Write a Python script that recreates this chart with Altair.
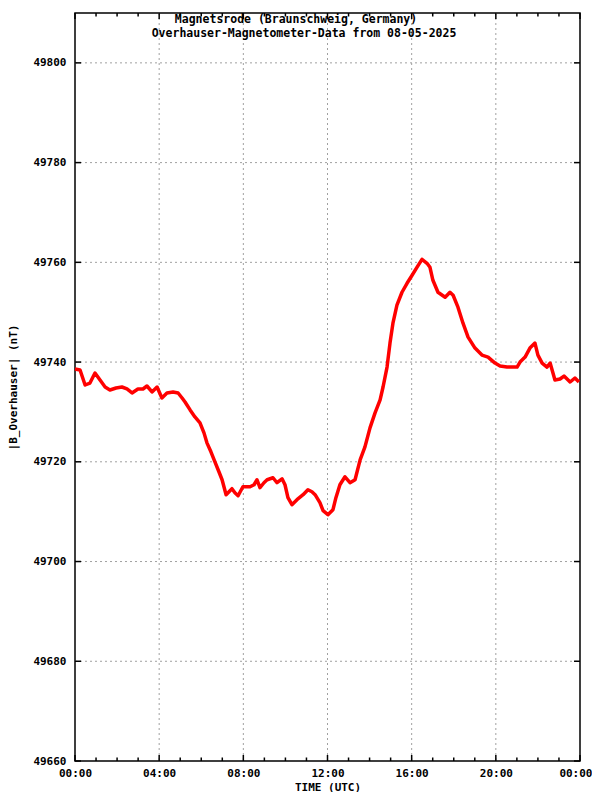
import altair as alt
import pandas as pd

# Time (hours UTC) and total field |B| (nT)
hours = [0.00, 0.24, 0.48, 0.71, 0.95, 1.19, 1.43, 1.66, 1.95, 2.23, 2.47, 2.71, 2.99, 3.23,
         3.42, 3.66, 3.90, 4.13, 4.37, 4.66, 4.90, 5.09, 5.23, 5.47, 5.70, 5.94, 6.13, 6.27,
         6.46, 6.65, 6.84, 6.99, 7.18, 7.32, 7.46, 7.60, 7.75, 7.98, 8.32, 8.51, 8.65, 8.79,
         8.98, 9.13, 9.41, 9.60, 9.84, 9.98, 10.12, 10.31, 10.55, 10.84, 11.07, 11.26, 11.41,
         11.64, 11.79, 12.02, 12.26, 12.40, 12.59, 12.83, 13.07, 13.31, 13.55, 13.78, 14.02,
         14.26, 14.50, 14.64, 14.83, 14.97, 15.11, 15.30, 15.54, 15.78, 16.02, 16.25, 16.49,
         16.73, 16.87, 17.01, 17.25, 17.59, 17.82, 17.97, 18.20, 18.44, 18.68, 19.01, 19.34,
         19.63, 19.96, 20.20, 20.53, 21.01, 21.15, 21.39, 21.62, 21.86, 22.00, 22.20, 22.43,
         22.58, 22.81, 23.05, 23.24, 23.53, 23.76, 23.95]
field_nT = [49738.6, 49738.4, 49735.4, 49735.8, 49737.8, 49736.4, 49735.0, 49734.4, 49734.8,
            49735.0, 49734.6, 49733.8, 49734.6, 49734.6, 49735.2, 49734.0, 49735.0, 49732.8,
            49733.8, 49734.0, 49733.8, 49732.8, 49732.0, 49730.4, 49729.0, 49727.8, 49725.8,
            49723.8, 49722.0, 49720.0, 49718.0, 49716.4, 49713.4, 49714.0, 49714.6, 49713.8,
            49713.2, 49715.0, 49715.0, 49715.4, 49716.4, 49714.8, 49715.8, 49716.4, 49716.8,
            49715.8, 49716.6, 49715.4, 49712.8, 49711.4, 49712.4, 49713.4, 49714.4, 49714.0,
            49713.4, 49711.8, 49710.2, 49709.4, 49710.4, 49712.8, 49715.4, 49717.0, 49715.8,
            49716.4, 49720.4, 49723.0, 49726.8, 49729.8, 49732.4, 49735.0, 49739.0, 49743.8,
            49747.8, 49751.4, 49754.0, 49755.8, 49757.4, 49759.0, 49760.6, 49759.8, 49759.0,
            49756.4, 49754.0, 49753.0, 49754.0, 49753.4, 49751.0, 49747.8, 49745.0, 49742.8,
            49741.4, 49741.0, 49739.8, 49739.2, 49739.0, 49739.0, 49740.0, 49741.0, 49742.8,
            49743.8, 49741.4, 49739.8, 49739.0, 49739.8, 49736.4, 49736.6, 49737.2, 49736.0,
            49736.8, 49736.0]

title_lines = ["Magnetsrode (Braunschweig, Germany)",
               "Overhauser-Magnetometer-Data from 08-05-2025"]
x_ticks = [0, 4, 8, 12, 16, 20, 24]
x_minor = [h for h in range(25) if h % 4 != 0]
y_ticks = [49660, 49680, 49700, 49720, 49740, 49760, 49780, 49800]
x_label = "TIME (UTC)"
y_label = "|B_Overhauser| (nT)"

W, H = 505, 748
FONT = "DejaVu Sans Mono"
GRID = "#a0a0a0"

xscale = alt.Scale(domain=[0, 24], nice=False, zero=False)
yscale = alt.Scale(domain=[49660, 49810], nice=False, zero=False)

df = pd.DataFrame({"h": hours, "B": field_nT})

xaxis = alt.Axis(values=x_ticks, title=x_label, grid=False, ticks=False, domain=False,
                 labelExpr="(datum.value % 24 < 10 ? '0' : '') + (datum.value % 24) + ':00'",
                 labelAlign={"expr": "datum.value == 24 ? 'right' : 'center'"},
                 labelOffset={"expr": "datum.value == 24 ? 12 : 0"},
                 labelFont=FONT, labelFontSize=11, labelFontWeight="bold", labelColor="black",
                 labelPadding=6, labelFlush=False, labelOverlap=False,
                 titleFont=FONT, titleFontSize=11, titleFontWeight="bold", titleColor="black",
                 titleY=29, titleBaseline="alphabetic")
yaxis = alt.Axis(values=y_ticks, title=y_label, grid=False, ticks=False, domain=False,
                 format="d", labelFont=FONT, labelFontSize=11, labelFontWeight="bold",
                 labelColor="black", labelPadding=9, labelFlush=False, labelOverlap=False,
                 titleFont=FONT, titleFontSize=11, titleFontWeight="bold", titleColor="black",
                 titlePadding=14)

line = alt.Chart(df).mark_line(color="#ff0000", strokeWidth=3.5, strokeJoin="round").encode(
    x=alt.X("h:Q", scale=xscale, axis=xaxis),
    y=alt.Y("B:Q", scale=yscale, axis=yaxis),
)

vgrid = alt.Chart(pd.DataFrame({"h": [4, 8, 12, 16, 20]})).mark_rule(
    color=GRID, strokeWidth=1, strokeDash=[2, 3]).encode(
    x=alt.X("h:Q", scale=xscale), y=alt.value(0), y2=alt.value(H))
hgrid = alt.Chart(pd.DataFrame({"B": [v for v in y_ticks if v != 49660]})).mark_rule(
    color=GRID, strokeWidth=1, strokeDash=[2, 3]).encode(
    y=alt.Y("B:Q", scale=yscale), x=alt.value(0), x2=alt.value(W))

ydf = pd.DataFrame({"B": y_ticks})
ytick_l = alt.Chart(ydf).mark_rule(color="black", strokeWidth=1.5).encode(
    y=alt.Y("B:Q", scale=yscale), x=alt.value(0), x2=alt.value(6))
ytick_r = alt.Chart(ydf).mark_rule(color="black", strokeWidth=1.5).encode(
    y=alt.Y("B:Q", scale=yscale), x=alt.value(W - 6), x2=alt.value(W))

xmaj = pd.DataFrame({"h": x_ticks})
xmin = pd.DataFrame({"h": x_minor})
xt_b = alt.Chart(xmaj).mark_rule(color="black", strokeWidth=1.5).encode(
    x=alt.X("h:Q", scale=xscale), y=alt.value(H), y2=alt.value(H - 6))
xt_t = alt.Chart(xmaj).mark_rule(color="black", strokeWidth=1.5).encode(
    x=alt.X("h:Q", scale=xscale), y=alt.value(0), y2=alt.value(6))
xm_b = alt.Chart(xmin).mark_rule(color="black", strokeWidth=1.5).encode(
    x=alt.X("h:Q", scale=xscale), y=alt.value(H), y2=alt.value(H - 3.5))
xm_t = alt.Chart(xmin).mark_rule(color="black", strokeWidth=1.5).encode(
    x=alt.X("h:Q", scale=xscale), y=alt.value(0), y2=alt.value(3.5))

t1 = alt.Chart(pd.DataFrame({"t": [title_lines[0]]})).mark_text(
    font=FONT, fontSize=11.5, fontWeight="bold", color="black", align="center",
    baseline="middle").encode(text="t:N", x=alt.value(221), y=alt.value(7))
t2 = alt.Chart(pd.DataFrame({"t": [title_lines[1]]})).mark_text(
    font=FONT, fontSize=11.5, fontWeight="bold", color="black", align="center",
    baseline="middle").encode(text="t:N", x=alt.value(229), y=alt.value(21))

chart = alt.layer(vgrid, hgrid, line, ytick_l, ytick_r, xt_b, xt_t, xm_b, xm_t, t1, t2).properties(
    width=W, height=H,
    autosize=alt.AutoSizeParams(type="none"),
    padding={"left": 67, "top": 5, "right": 12, "bottom": 31},
    background="white",
).configure_view(stroke="black", strokeWidth=1.5)

chart.save("out.html", embed_options={"renderer": "svg", "actions": False})
